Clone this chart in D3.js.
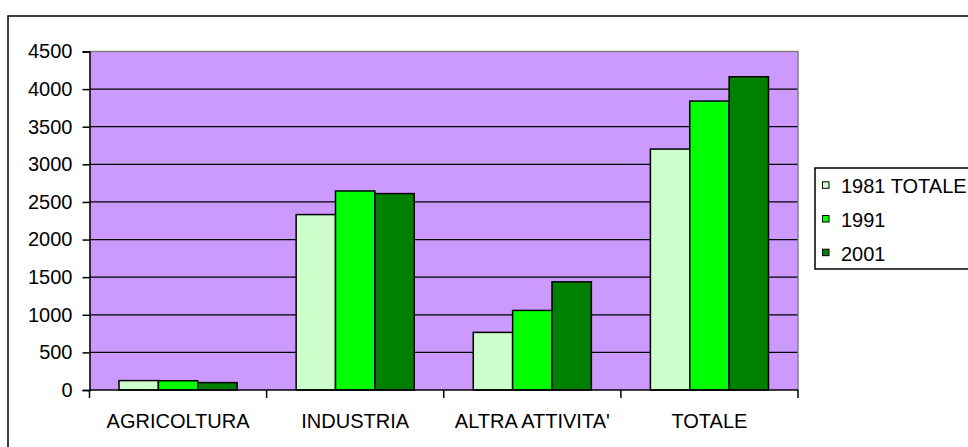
<!DOCTYPE html>
<html>
<head>
<meta charset="utf-8">
<script src="https://cdn.jsdelivr.net/npm/d3@7/dist/d3.min.js"></script>
<style>
  html, body { margin: 0; padding: 0; background: #ffffff; }
  svg { display: block; font-family: Arial, "Liberation Sans", sans-serif; }
</style>
</head>
<body>
<svg id="chart" width="968" height="447"></svg>
<script>
const categories = ["AGRICOLTURA", "INDUSTRIA", "ALTRA ATTIVITA'", "TOTALE"];
const seriesNames = ["1981 TOTALE", "1991", "2001"];
const values1981 = [125, 2332, 766, 3203];
const values1991 = [123, 2646, 1058, 3841];
const values2001 = [98, 2611, 1438, 4164];
const seriesColors = ["#CCFFCC", "#00FF00", "#008000"];
const yTicks = [0, 500, 1000, 1500, 2000, 2500, 3000, 3500, 4000, 4500];

const seriesValues = [values1981, values1991, values2001];

const svg = d3.select("#chart");
const plot = { left: 89.5, right: 798, top: 51.5, bottom: 390 };
const fontSize = 20;

// outer chart border
svg.append("rect")
  .attr("x", 8).attr("y", 16)
  .attr("width", 975).attr("height", 460)
  .attr("fill", "#ffffff").attr("stroke", "#000").attr("stroke-width", 1.5);

const x = d3.scaleBand().domain(categories).range([plot.left, plot.right]).paddingInner(0).paddingOuter(0);
const xs = d3.scaleBand().domain(seriesNames).range([0, x.bandwidth()]).paddingInner(0).paddingOuter(0.75);
const y = d3.scaleLinear().domain([0, 4500]).range([plot.bottom, plot.top]);

// plot background
svg.append("rect")
  .attr("x", plot.left).attr("y", plot.top)
  .attr("width", plot.right - plot.left).attr("height", plot.bottom - plot.top)
  .attr("fill", "#CC99FF").attr("stroke", "none");

// gridlines
svg.append("g").selectAll("line").data(yTicks.filter(t => t > 0 && t < 4500)).join("line")
  .attr("x1", plot.left).attr("x2", plot.right)
  .attr("y1", d => y(d)).attr("y2", d => y(d))
  .attr("stroke", "#000").attr("stroke-width", 1.2);

// plot border top/right (gray)
svg.append("path")
  .attr("d", `M${plot.left},${plot.top}H${plot.right}V${plot.bottom}`)
  .attr("fill", "none").attr("stroke", "#808080").attr("stroke-width", 1.5);

// bars
const groups = svg.append("g").selectAll("g").data(seriesNames).join("g")
  .attr("fill", (d, i) => seriesColors[i]);
groups.each(function(s, si) {
  d3.select(this).selectAll("rect").data(categories).join("rect")
    .attr("x", c => x(c) + xs(s))
    .attr("width", xs.bandwidth())
    .attr("y", (c, ci) => y(seriesValues[si][ci]))
    .attr("height", (c, ci) => y(0) - y(seriesValues[si][ci]))
    .attr("stroke", "#000").attr("stroke-width", 1.5);
});

// y axis
const yAxis = svg.append("g")
  .attr("transform", `translate(${plot.left},0)`)
  .call(d3.axisLeft(y).tickValues(yTicks).tickSize(7).tickPadding(10).tickFormat(d3.format("d")));
yAxis.select(".domain").attr("stroke", "#000").attr("stroke-width", 1.5);
yAxis.selectAll(".tick line").attr("stroke", "#000").attr("stroke-width", 1.5);
yAxis.selectAll(".tick text").attr("font-size", fontSize).attr("fill", "#000")
  .attr("font-family", "Arial, 'Liberation Sans', sans-serif");

// x axis
const catTicks = categories.map(c => x(c)).concat([plot.right]);
svg.append("line")
  .attr("x1", plot.left).attr("x2", plot.right)
  .attr("y1", plot.bottom).attr("y2", plot.bottom)
  .attr("stroke", "#000").attr("stroke-width", 1.5);
svg.append("g").selectAll("line").data(catTicks).join("line")
  .attr("x1", d => d).attr("x2", d => d)
  .attr("y1", plot.bottom).attr("y2", plot.bottom + 8)
  .attr("stroke", "#000").attr("stroke-width", 1.5);
svg.append("g").selectAll("text").data(categories).join("text")
  .attr("x", c => x(c) + x.bandwidth() / 2)
  .attr("y", 428)
  .attr("text-anchor", "middle")
  .attr("font-size", fontSize)
  .attr("fill", "#000")
  .text(c => c);

// legend
const legend = svg.append("g");
legend.append("rect")
  .attr("x", 815).attr("y", 168).attr("width", 170).attr("height", 101)
  .attr("fill", "#fff").attr("stroke", "#000").attr("stroke-width", 1.5);
const baselines = [193.3, 227, 260.7];
seriesNames.forEach((s, i) => {
  legend.append("rect")
    .attr("x", 822.5).attr("y", baselines[i] - 11.5)
    .attr("width", 6.5).attr("height", 6.5)
    .attr("fill", seriesColors[i]).attr("stroke", "#000").attr("stroke-width", 1);
  legend.append("text")
    .attr("x", 841).attr("y", baselines[i])
    .attr("font-size", fontSize).attr("fill", "#000")
    .text(s);
});
</script>
</body>
</html>
